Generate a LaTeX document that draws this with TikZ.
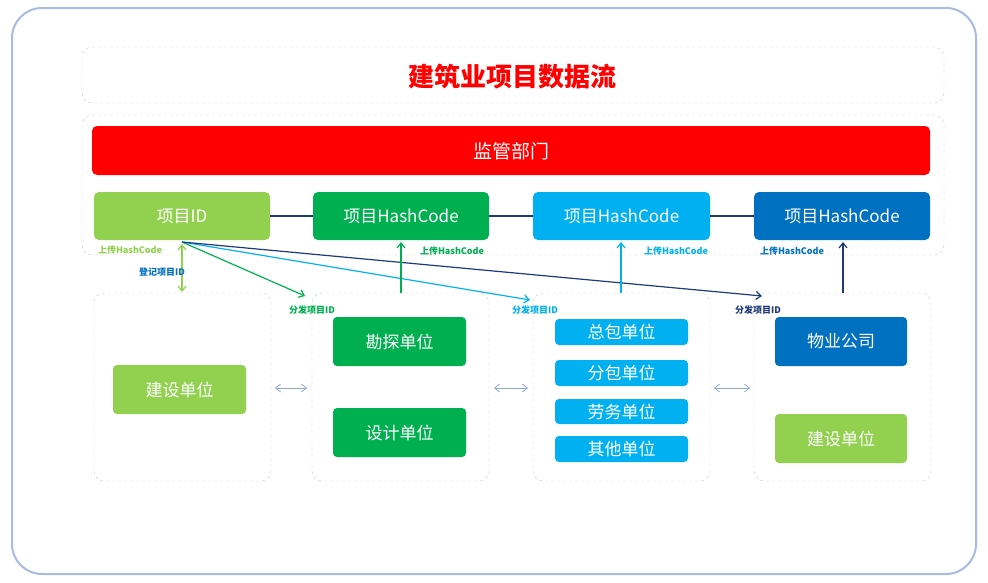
\documentclass[tikz,border=0pt]{standalone}
\usepackage{fontspec}
\setmainfont{Noto Sans CJK SC}
\usetikzlibrary{arrows.meta}
\definecolor{lg}{HTML}{92D050}\definecolor{dg}{HTML}{00B050}
\definecolor{lb}{HTML}{00B0F0}\definecolor{db}{HTML}{0070C0}
\definecolor{nv}{HTML}{1F3A7A}\definecolor{ob}{HTML}{A9BBE3}
\definecolor{gb}{HTML}{8FA6D6}
\begin{document}
\begin{tikzpicture}[x=1pt,y=-1pt,
 box/.style={rounded corners=5pt,text=white,font=\fontsize{17}{17}\selectfont},
 dbox/.style={draw=gray!45,dashed,rounded corners=10pt},
 lab/.style={font=\bfseries\fontsize{9}{9}\selectfont,inner sep=1pt},
 arr/.style={-{Straight Barb[length=5pt,width=8pt]},line width=1.2pt}]
\useasboundingbox (0,0) rectangle (988,582);
\draw[ob,line width=2pt,rounded corners=30pt] (12,8) rectangle (976,574);
\draw[dbox] (82,47) rectangle (944,103);
\node[text=red,font=\bfseries\fontsize{26}{26}\selectfont] (title) at (512,77) {建筑业项目数据流};
\draw[dbox] (82,115) rectangle (944,255);
\fill[red,rounded corners=5pt] (92,126) rectangle (930,175);
\node[text=white,font=\fontsize{19}{19}\selectfont] (reg) at (511,151) {监管部门};
\foreach \n/\a/\b/\c/\t in {id/94/270/lg/项目ID,h1/313/489/dg/项目HashCode,h2/533/710/lb/项目HashCode,h3/754/930/db/项目HashCode}{
  \fill[\c,rounded corners=5pt] (\a,192) rectangle (\b,240);
  \node[box] (\n) at ({(\a+\b)/2},216) {\t};}
\draw[nv,line width=1.5pt] (270,216)--(313,216) (489,216)--(533,216) (710,216)--(754,216);
\foreach \a/\b in {94/271,312/489,533/710,754/931}\draw[dbox] (\a,293) rectangle (\b,481);
\foreach \n/\a/\y/\b/\z/\c/\t in {
 js1/113/365/246/414/lg/建设单位, kt/333/317/466/366/dg/勘探单位, sj/333/408/466/457/dg/设计单位,
 zb/555/319/688/345/lb/总包单位, fb/555/360/688/386/lb/分包单位, lw/555/399/688/424/lb/劳务单位, qt/555/436/688/462/lb/其他单位,
 wy/775/317/907/366/db/物业公司, js2/775/414/907/463/lg/建设单位}{
  \fill[\c,rounded corners=4pt] (\a,\y) rectangle (\b,\z);
  \node[box] (\n) at ({(\a+\b)/2},{(\y+\z)/2}) {\t};}
\foreach \a/\b in {275/307,494/528,714/750}\draw[gb,{Straight Barb[length=5pt,width=8pt]}-{Straight Barb[length=5pt,width=8pt]},line width=0.8pt] (\a,388)--(\b,388);
\coordinate (o) at (182,242);
\coordinate (t1) at (305,296);\coordinate (t2) at (530,300);\coordinate (t3) at (762,296);
\draw[arr,dg] (o)--(t1);\draw[arr,lb] (o)--(t2);\draw[arr,nv] (o)--(t3);
\node[lab,text=dg] at (312,310) {分发项目ID};
\node[lab,text=lb] at (535,310) {分发项目ID};
\node[lab,text=nv] at (758,310) {分发项目ID};
\coordinate (ob1) at (182,292);
\draw[lg,line width=1.2pt,{Straight Barb[length=5pt,width=8pt]}-{Straight Barb[length=5pt,width=8pt]}] (182,244)--(ob1);
\node[lab,text=lg] at (130,250) {上传HashCode};
\node[lab,text=db] at (162,272) {登记项目ID};
\coordinate (u1) at (401,293);\coordinate (u2) at (621,293);\coordinate (u3) at (843,293);
\draw[arr,dg] (u1)--(401,242);\draw[arr,lb] (u2)--(621,242);\draw[arr,nv] (u3)--(843,242);
\node[lab,text=dg] at (452,251) {上传HashCode};
\node[lab,text=lb] at (676,251) {上传HashCode};
\node[lab,text=db] at (792,251) {上传HashCode};
\end{tikzpicture}
\end{document}
